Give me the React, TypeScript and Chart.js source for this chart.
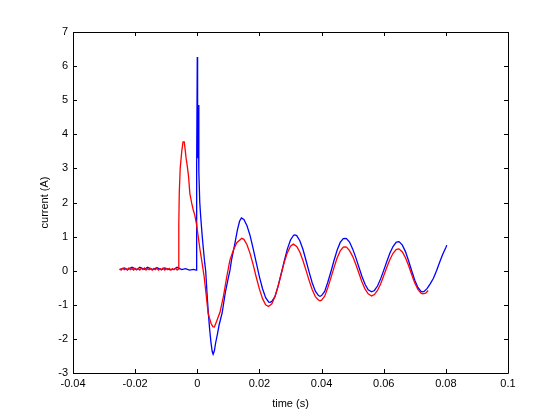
import React, { useEffect, useRef } from "react";
import { Chart, registerables } from "chart.js";

Chart.register(...registerables);

// x-axis tick values and labels
const xTickValues = [-0.04, -0.02, 0, 0.02, 0.04, 0.06, 0.08, 0.1];
const xTickLabels = ["-0.04", "-0.02", "0", "0.02", "0.04", "0.06", "0.08", "0.1"];
const yTickValues = [-3, -2, -1, 0, 1, 2, 3, 4, 5, 6, 7];

// Blue trace: time (s) and current (A)
const blueTime = [
  -0.025, -0.0235, -0.0225, -0.021, -0.0195, -0.0185, -0.017, -0.016, -0.0145, -0.013,
  -0.0115, -0.0105, -0.009, -0.0075, -0.0065, -0.005, -0.0038, -0.0025, -0.0012, -0.0004,
  -0.0002, 0.0, 0.0001, 0.0003, 0.0005, 0.0008, 0.0011, 0.0016, 0.002, 0.0024,
  0.0027, 0.0032, 0.0036, 0.004, 0.0044, 0.0048, 0.0051, 0.0055, 0.0059, 0.0065,
  0.007, 0.008, 0.009, 0.01, 0.0105, 0.011, 0.012, 0.0129, 0.0136, 0.0142,
  0.015, 0.016, 0.017, 0.018, 0.019, 0.02, 0.021, 0.022, 0.023, 0.0234,
  0.024, 0.025, 0.026, 0.027, 0.028, 0.029, 0.03, 0.031, 0.0314, 0.032,
  0.033, 0.034, 0.035, 0.036, 0.037, 0.038, 0.039, 0.0395, 0.04, 0.041,
  0.042, 0.043, 0.044, 0.045, 0.046, 0.047, 0.0475, 0.048, 0.049, 0.05,
  0.051, 0.052, 0.053, 0.054, 0.055, 0.0561, 0.057, 0.058, 0.059, 0.06,
  0.061, 0.062, 0.063, 0.064, 0.0647, 0.065, 0.066, 0.067, 0.068, 0.069,
  0.07, 0.071, 0.072, 0.0725, 0.073, 0.074, 0.075, 0.076, 0.077, 0.078,
  0.079, 0.08, 0.0803,
];
const blueCurrent = [
  0.03, 0.08, 0.03, 0.1, 0.03, 0.1, 0.04, 0.1, 0.03, 0.09,
  0.03, 0.08, 0.03, 0.04, 0.1, 0.03, 0.06, 0.02, 0.04, 0.02,
  3.1, 6.27, 3.3, 4.86, 2.9, 2.0, 1.58, 1.0, 0.6, 0.22,
  0.0, -0.76, -1.3, -1.74, -2.1, -2.37, -2.45, -2.35, -2.12, -1.85,
  -1.6, -1.24, -0.65, -0.2, 0.0, 0.3, 0.75, 1.19, 1.45, 1.55,
  1.5, 1.32, 1.03, 0.64, 0.23, -0.18, -0.53, -0.79, -0.92, -0.93,
  -0.9, -0.76, -0.46, -0.09, 0.29, 0.64, 0.9, 1.04, 1.05, 1.03,
  0.88, 0.63, 0.3, -0.04, -0.36, -0.6, -0.73, -0.75, -0.73, -0.61,
  -0.34, -0.03, 0.3, 0.6, 0.83, 0.94, 0.95, 0.94, 0.84, 0.64,
  0.39, 0.11, -0.17, -0.4, -0.56, -0.62, -0.58, -0.45, -0.24, 0.01,
  0.27, 0.52, 0.71, 0.83, 0.85, 0.845, 0.75, 0.56, 0.29, 0.0,
  -0.28, -0.49, -0.61, -0.62, -0.61, -0.52, -0.38, -0.22, 0.0, 0.25,
  0.48, 0.68, 0.75,
];

// Red trace: time (s) and current (A)
const redTime = [
  -0.025, -0.0245, -0.024, -0.0235, -0.023, -0.0225, -0.022, -0.0215, -0.021, -0.0205,
  -0.02, -0.0195, -0.019, -0.0185, -0.018, -0.0175, -0.017, -0.0165, -0.016, -0.0155,
  -0.015, -0.0145, -0.014, -0.0135, -0.013, -0.0125, -0.012, -0.0115, -0.011, -0.0105,
  -0.01, -0.0095, -0.009, -0.0085, -0.008, -0.0075, -0.007, -0.0065, -0.0062,
  -0.006, -0.0059, -0.0058, -0.0055, -0.005, -0.0046, -0.0042, -0.0039, -0.0036, -0.0032,
  -0.0028, -0.0024, -0.0018, -0.0013, -0.0008, -0.0002, 0.0003, 0.0009, 0.0014, 0.0022,
  0.0028, 0.0035, 0.0044, 0.005, 0.0055, 0.0062, 0.0073, 0.0084, 0.0095, 0.0105,
  0.0116, 0.0127, 0.0137, 0.0143, 0.015, 0.016, 0.017, 0.018, 0.019, 0.02,
  0.021, 0.022, 0.0229, 0.024, 0.025, 0.026, 0.027, 0.028, 0.029, 0.03,
  0.0309, 0.032, 0.033, 0.034, 0.035, 0.036, 0.037, 0.038, 0.039, 0.0395,
  0.04, 0.041, 0.042, 0.043, 0.044, 0.045, 0.046, 0.047, 0.0475, 0.048,
  0.049, 0.05, 0.051, 0.052, 0.053, 0.054, 0.055, 0.0561, 0.057, 0.058,
  0.059, 0.06, 0.061, 0.062, 0.063, 0.064, 0.0647, 0.065, 0.066, 0.067,
  0.068, 0.069, 0.07, 0.071, 0.072, 0.0726, 0.0735, 0.0743,
];
const redCurrent = [
  0.06, 0.02, 0.07, 0.03, 0.06, 0.02, 0.08, 0.03, 0.06, 0.02,
  0.07, 0.03, 0.06, 0.02, 0.07, 0.03, 0.08, 0.02, 0.06, 0.03,
  0.07, 0.02, 0.06, 0.03, 0.07, 0.02, 0.06, 0.03, 0.08, 0.02,
  0.06, 0.03, 0.07, 0.02, 0.06, 0.03, 0.07, 0.02, 0.05,
  0.04, 1.34, 2.27, 3.0, 3.5, 3.78, 3.78, 3.55, 3.3, 3.05,
  2.76, 2.27, 1.98, 1.78, 1.63, 1.34, 1.0, 0.6, 0.31, -0.17,
  -0.66, -1.25, -1.54, -1.64, -1.65, -1.49, -1.22, -0.76, -0.17, 0.31,
  0.6, 0.82, 0.9, 0.95, 0.92, 0.76, 0.5, 0.17, -0.2, -0.54,
  -0.82, -1.0, -1.05, -0.97, -0.76, -0.45, -0.1, 0.25, 0.53, 0.72,
  0.78, 0.71, 0.55, 0.3, 0.01, -0.29, -0.56, -0.76, -0.86, -0.88,
  -0.865, -0.75, -0.5, -0.21, 0.09, 0.37, 0.58, 0.69, 0.7, 0.69,
  0.59, 0.42, 0.19, -0.07, -0.33, -0.54, -0.68, -0.74, -0.7, -0.58,
  -0.39, -0.15, 0.1, 0.33, 0.51, 0.62, 0.64, 0.635, 0.55, 0.38,
  0.15, -0.11, -0.36, -0.55, -0.66, -0.68, -0.66, -0.58,
];

const FONT = "'Liberation Sans', Arial, Helvetica, sans-serif";

const matlabAxes = {
  id: "matlabAxes",
  afterDatasetsDraw(chart: any) {
    const { ctx, chartArea } = chart;
    const { left, right, top, bottom } = chartArea;
    const xs = chart.scales.x;
    const ys = chart.scales.y;
    const tick = 4;
    ctx.save();
    ctx.strokeStyle = "#000";
    ctx.lineWidth = 1;
    ctx.beginPath();
    xs.ticks.forEach((t: any) => {
      const px = Math.round(xs.getPixelForValue(t.value)) + 0.5;
      ctx.moveTo(px, bottom);
      ctx.lineTo(px, bottom - tick);
      ctx.moveTo(px, top);
      ctx.lineTo(px, top + tick);
    });
    ys.ticks.forEach((t: any) => {
      const py = Math.round(ys.getPixelForValue(t.value)) + 0.5;
      ctx.moveTo(left, py);
      ctx.lineTo(left + tick, py);
      ctx.moveTo(right, py);
      ctx.lineTo(right - tick, py);
    });
    ctx.stroke();
    ctx.beginPath();
    ctx.rect(Math.round(left) + 0.5, Math.round(top) + 0.5, Math.round(right - left), Math.round(bottom - top));
    ctx.stroke();
    ctx.restore();
  },
};

export default function App() {
  const canvasRef = useRef<HTMLCanvasElement | null>(null);

  useEffect(() => {
    if (!canvasRef.current) return;
    const blueData = blueTime.map((t, i) => ({ x: t, y: blueCurrent[i] }));
    const redData = redTime.map((t, i) => ({ x: t, y: redCurrent[i] }));
    const chart = new Chart(canvasRef.current, {
      type: "line",
      data: {
        datasets: [
          {
            label: "red",
            data: redData,
            borderColor: "#ff0000",
            borderWidth: 1.3,
            pointRadius: 0,
            tension: 0,
            fill: false,
            order: 0,
          },
          {
            label: "blue",
            data: blueData,
            borderColor: "#0000ff",
            borderWidth: 1.3,
            pointRadius: 0,
            tension: 0,
            fill: false,
            order: 1,
          },
        ],
      },
      options: {
        animation: false,
        responsive: false,
        events: [],
        layout: { padding: { top: 32, right: 52, left: 0, bottom: 0 } },
        plugins: {
          legend: { display: false },
          tooltip: { enabled: false },
          title: { display: false },
        },
        scales: {
          x: {
            type: "linear",
            min: -0.04,
            max: 0.1,
            grid: { display: false, drawTicks: false },
            border: { display: false },
            afterBuildTicks: (scale: any) => {
              scale.ticks = xTickValues.map((v) => ({ value: v }));
            },
            afterFit: (scale: any) => {
              scale.height = 47;
            },
            ticks: {
              autoSkip: false,
              maxRotation: 0,
              minRotation: 0,
              padding: 4,
              color: "#000",
              font: { family: FONT, size: 11 },
              callback: (_v: any, i: number) => xTickLabels[i],
            },
            title: {
              display: true,
              text: "time (s)",
              color: "#000",
              font: { family: FONT, size: 11 },
              padding: { top: 0, bottom: 9 },
            },
          },
          y: {
            type: "linear",
            min: -3,
            max: 7,
            grid: { display: false, drawTicks: false },
            border: { display: false },
            afterBuildTicks: (scale: any) => {
              scale.ticks = yTickValues.map((v) => ({ value: v }));
            },
            afterFit: (scale: any) => {
              scale.width = 73;
            },
            ticks: {
              autoSkip: false,
              padding: 5,
              color: "#000",
              font: { family: FONT, size: 11 },
              callback: (v: any) => String(v),
            },
            title: {
              display: true,
              text: "current (A)",
              color: "#000",
              font: { family: FONT, size: 11 },
              padding: { top: 38, bottom: 0 },
            },
          },
        },
      },
      plugins: [matlabAxes],
    });
    return () => chart.destroy();
  }, []);

  return (
    <div style={{ position: "absolute", left: 0, top: 0, width: 560, height: 420, background: "#fff" }}>
      <canvas ref={canvasRef} width={560} height={420} />
    </div>
  );
}
